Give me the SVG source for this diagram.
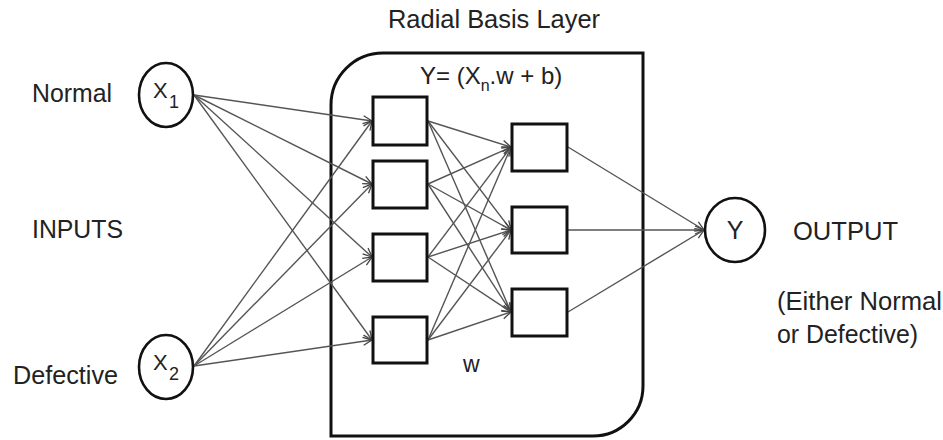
<svg xmlns="http://www.w3.org/2000/svg" width="943" height="440" viewBox="0 0 943 440">
<style>
text{font-family:"Liberation Sans",Arial,sans-serif;fill:#222;}
.lbl{font-size:25px;}
.node{fill:#fff;stroke:#111;stroke-width:3;}
.ell{fill:#fff;stroke:#111;stroke-width:2.6;}
.c{stroke:#555;stroke-width:1.4;fill:none;marker-end:url(#arr);}
</style>
<defs>
<marker id="arr" markerWidth="12" markerHeight="12" refX="10" refY="5" orient="auto" markerUnits="userSpaceOnUse">
<path d="M1,1 L10,5 L1,9" fill="none" stroke="#444" stroke-width="1.3"/>
</marker>
</defs>
<rect width="943" height="440" fill="#fff"/>
<g id="layer-box">
<path d="M383,53 L643,53 L643,386 A50,50 0 0 1 593,436 L331,436 L331,105 A52,52 0 0 1 383,53 Z" fill="none" stroke="#111" stroke-width="3"/>
<text class="lbl" x="388" y="28" textLength="212" lengthAdjust="spacingAndGlyphs">Radial Basis Layer</text>
<text x="420" y="84" font-size="24">Y= (X<tspan font-size="16" dy="7">n</tspan><tspan dy="-7">.w + b)</tspan></text>
<text x="463" y="372" font-size="23">w</text>
</g>
<g id="connectors">
<line class="c" x1="194" y1="95" x2="372" y2="121"/>
<line class="c" x1="194" y1="95" x2="372" y2="184"/>
<line class="c" x1="194" y1="95" x2="372" y2="257"/>
<line class="c" x1="194" y1="95" x2="372" y2="340"/>
<line class="c" x1="194" y1="366" x2="372" y2="121"/>
<line class="c" x1="194" y1="366" x2="372" y2="184"/>
<line class="c" x1="194" y1="366" x2="372" y2="257"/>
<line class="c" x1="194" y1="366" x2="372" y2="340"/>
<line class="c" x1="428" y1="121" x2="511" y2="147"/>
<line class="c" x1="428" y1="121" x2="511" y2="230"/>
<line class="c" x1="428" y1="121" x2="511" y2="312"/>
<line class="c" x1="428" y1="184" x2="511" y2="147"/>
<line class="c" x1="428" y1="184" x2="511" y2="230"/>
<line class="c" x1="428" y1="184" x2="511" y2="312"/>
<line class="c" x1="428" y1="257" x2="511" y2="147"/>
<line class="c" x1="428" y1="257" x2="511" y2="230"/>
<line class="c" x1="428" y1="257" x2="511" y2="312"/>
<line class="c" x1="428" y1="340" x2="511" y2="147"/>
<line class="c" x1="428" y1="340" x2="511" y2="230"/>
<line class="c" x1="428" y1="340" x2="511" y2="312"/>
<line class="c" x1="568" y1="147" x2="704" y2="230"/>
<line class="c" x1="568" y1="230" x2="704" y2="230" stroke="#222"/>
<line class="c" x1="568" y1="312" x2="704" y2="230"/>
</g>
<g id="x1">
<ellipse class="ell" cx="166" cy="95" rx="27" ry="32"/>
<text x="153" y="98" font-size="22">X</text>
<text x="169" y="108" font-size="18">1</text>
</g>
<g id="x2">
<ellipse class="ell" cx="166" cy="367" rx="27" ry="32"/>
<text x="153" y="370" font-size="22">X</text>
<text x="169" y="380" font-size="18">2</text>
</g>
<g id="labels-in">
<text class="lbl" x="32" y="102" textLength="80" lengthAdjust="spacingAndGlyphs">Normal</text>
<text class="lbl" x="32" y="238" textLength="91" lengthAdjust="spacingAndGlyphs">INPUTS</text>
<text class="lbl" x="13" y="384" textLength="105" lengthAdjust="spacingAndGlyphs">Defective</text>
</g>
<g id="h1"><rect class="node" x="373" y="97" width="54" height="48"/></g>
<g id="h2"><rect class="node" x="373" y="161" width="54" height="47"/></g>
<g id="h3"><rect class="node" x="373" y="234" width="54" height="47"/></g>
<g id="h4"><rect class="node" x="373" y="317" width="54" height="46"/></g>
<g id="o1"><rect class="node" x="512" y="124" width="55" height="47"/></g>
<g id="o2"><rect class="node" x="512" y="207" width="55" height="46"/></g>
<g id="o3"><rect class="node" x="512" y="289" width="55" height="47"/></g>
<g id="y">
<ellipse class="ell" cx="735" cy="230" rx="30" ry="32"/>
<text x="735" y="239" font-size="25" text-anchor="middle">Y</text>
</g>
<g id="labels-out">
<text class="lbl" x="793" y="240" textLength="105" lengthAdjust="spacingAndGlyphs">OUTPUT</text>
<text class="lbl" x="777" y="310" textLength="165" lengthAdjust="spacingAndGlyphs">(Either Normal</text>
<text class="lbl" x="777" y="343" textLength="141" lengthAdjust="spacingAndGlyphs">or Defective)</text>
</g>
</svg>
